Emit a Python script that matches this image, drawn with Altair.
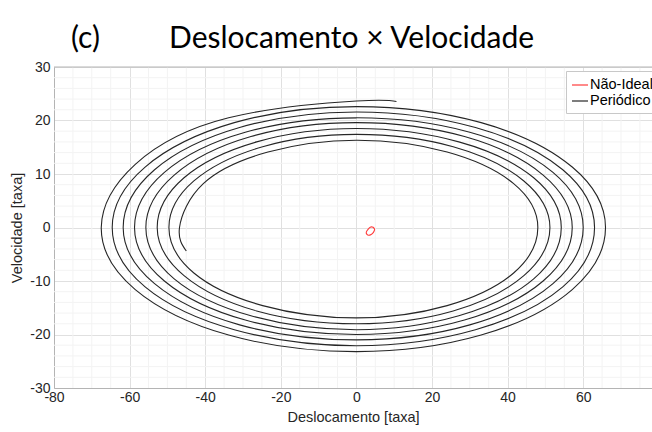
import altair as alt
import pandas as pd

# ---- data ----
spiral_x = [-45.0, -46.8, -40.5, -23.4, 0.0, 24.0, 41.6, 48.0, 41.6, 24.0, 0.0, -24.8, -43.0, -49.6,
            -43.0, -24.8, 0.0, 25.6, 44.3, 51.2, 44.3, 25.6, 0.0, -26.4, -45.6, -52.7,
            -45.6, -26.4, 0.0, 27.1, 46.9, 54.2, 46.9, 27.1, 0.0, -27.9, -48.2, -55.7,
            -48.2, -27.9, 0.0, 28.6, 49.4, 57.1, 49.4, 28.6, 0.0, -29.4, -50.8, -58.7,
            -50.8, -29.4, 0.0, 30.0, 52.0, 60.0, 52.0, 30.0, 0.0, -30.9, -53.4, -61.7,
            -53.4, -30.9, 0.0, 31.5, 54.6, 63.0, 54.6, 31.5, 0.0, -32.3, -55.9, -64.6,
            -55.9, -32.3, 0.0, 33.0, 57.1, 65.9, 57.1, 33.0, 0.0, -33.8, -58.5, -67.5,
            -58.5, -33.8, 0.0, 10.6]
spiral_y = [-4.4, 0.0, 8.2, 14.1, 16.3, 14.1, 8.2, 0.0, -8.5, -14.6, -16.9, -14.6, -8.5, 0.0,
            8.7, 15.1, 17.4, 15.1, 8.7, 0.0, -9.0, -15.6, -18.0, -15.6, -9.0, 0.0,
            9.3, 16.0, 18.5, 16.0, 9.3, 0.0, -9.6, -16.5, -19.1, -16.5, -9.6, 0.0,
            9.8, 17.0, 19.6, 17.0, 9.8, 0.0, -10.0, -17.3, -20.0, -17.3, -10.0, 0.0,
            10.3, 17.8, 20.5, 17.8, 10.3, 0.0, -10.5, -18.2, -21.0, -18.2, -10.5, 0.0,
            10.8, 18.7, 21.6, 18.7, 10.8, 0.0, -11.1, -19.1, -22.1, -19.1, -11.1, 0.0,
            11.3, 19.6, 22.6, 19.6, 11.3, 0.0, -11.6, -20.1, -23.2, -20.1, -11.6, 0.0,
            11.8, 20.5, 23.65, 23.55]

ideal_x = [4.3, 4.7, 4.8, 4.5, 3.9, 3.2, 2.8, 2.6, 2.8, 3.3, 3.8, 4.3]
ideal_y = [0.1, -0.15, -0.45, -0.9, -1.3, -1.45, -1.3, -1.0, -0.6, -0.15, 0.1, 0.1]

series_names = ["Não-Ideal", "Periódico"]
series_colors = ["#ff3b3b", "#262626"]

x_ticks = [-80, -60, -40, -20, 0, 20, 40, 60]
y_ticks = [-30, -20, -10, 0, 10, 20, 30]
x_minor = [-75, -70, -65, -55, -50, -45, -35, -30, -25, -15, -10, -5,
           5, 10, 15, 25, 30, 35, 45, 50, 55, 65, 70, 75]
y_minor = [-28, -26, -24, -22, -18, -16, -14, -12, -8, -6, -4, -2,
           2, 4, 6, 8, 12, 14, 16, 18, 22, 24, 26, 28]
x_domain = [-80, 78.2]
y_domain = [-30, 30]
box_top = [30]

# ---- tables ----
df = pd.DataFrame({
    "x": spiral_x + ideal_x,
    "y": spiral_y + ideal_y,
    "serie": ["Periódico"] * len(spiral_x) + ["Não-Ideal"] * len(ideal_x),
    "i": list(range(len(spiral_x))) + list(range(len(ideal_x))),
})

AXIS_FONT = "Liberation Sans"
TXT = "#262626"
BOX = "#b4b4b4"
MAJOR = "#e0e0e0"
MINOR = "#f3f3f3"

x_axis = alt.Axis(
    values=x_ticks,
    labelExpr="'' + datum.value",
    grid=True, gridColor=MAJOR, gridWidth=1,
    ticks=False, tickSize=0,
    domainColor=BOX,
    labelFont=AXIS_FONT, labelFontSize=14, labelColor=TXT, labelPadding=2,
    labelFlush=False, labelOverlap=False,
    titleFont=AXIS_FONT, titleFontSize=14.5, titleColor=TXT, titleFontWeight="normal",
    titlePadding=6,
)
y_axis = alt.Axis(
    values=y_ticks,
    labelExpr="'' + datum.value",
    grid=True, gridColor=MAJOR, gridWidth=1,
    ticks=False, tickSize=0,
    domainColor=BOX,
    labelFont=AXIS_FONT, labelFontSize=14, labelColor=TXT, labelPadding=4,
    labelFlush=False, labelOverlap=False,
    titleFont=AXIS_FONT, titleFontSize=14.5, titleColor=TXT, titleFontWeight="normal",
    titlePadding=5,
)


def xenc():
    return alt.X("x:Q", scale=alt.Scale(domain=x_domain, nice=False, zero=False),
                 axis=x_axis, title="Deslocamento [taxa]")


def yenc():
    return alt.Y("y:Q", scale=alt.Scale(domain=y_domain, nice=False, zero=False),
                 axis=y_axis, title="Velocidade [taxa]")


minor_x = alt.Chart(pd.DataFrame({"x": x_minor})).mark_rule(
    color=MINOR, strokeWidth=1).encode(x=xenc())
minor_y = alt.Chart(pd.DataFrame({"y": y_minor})).mark_rule(
    color=MINOR, strokeWidth=1).encode(y=yenc())

lines = alt.Chart(df).mark_line(strokeWidth=1.1, interpolate="natural").encode(
    x=xenc(),
    y=yenc(),
    color=alt.Color("serie:N",
                    scale=alt.Scale(domain=series_names, range=series_colors),
                    legend=alt.Legend(
                        title=None, orient="none", legendX=512, legendY=4,
                        symbolType="stroke", symbolSize=256, symbolStrokeWidth=1.2,
                        labelFont=AXIS_FONT, labelFontSize=14.5, labelColor="#000",
                        labelOffset=1, fillColor="white", strokeColor="#c8c8c8",
                        padding=5, rowPadding=-3, labelLimit=200)),
    order="i:Q",
    detail="serie:N",
)

top_rule = alt.Chart(pd.DataFrame({"y": box_top})).mark_rule(color=BOX, strokeWidth=1).encode(
    y=yenc()
)

chart = alt.layer(minor_x, minor_y, lines, top_rule).properties(
    width=598,
    height=321,
    title=alt.Title(
        text="(c)" + "\u00a0" * 9 + "Deslocamento × Velocidade",
        anchor="start", frame="group", dx=17, dy=37, offset=19, baseline="alphabetic",
        font="Lato", fontSize=30, fontWeight="normal", color="#000",
    ),
    autosize=alt.AutoSizeParams(type="none"),
    padding={"left": 54, "top": 67, "right": 0, "bottom": 44},
).configure_view(stroke=None).configure(background="white")

chart.save("out.html", embed_options={"renderer": "svg", "actions": False})
